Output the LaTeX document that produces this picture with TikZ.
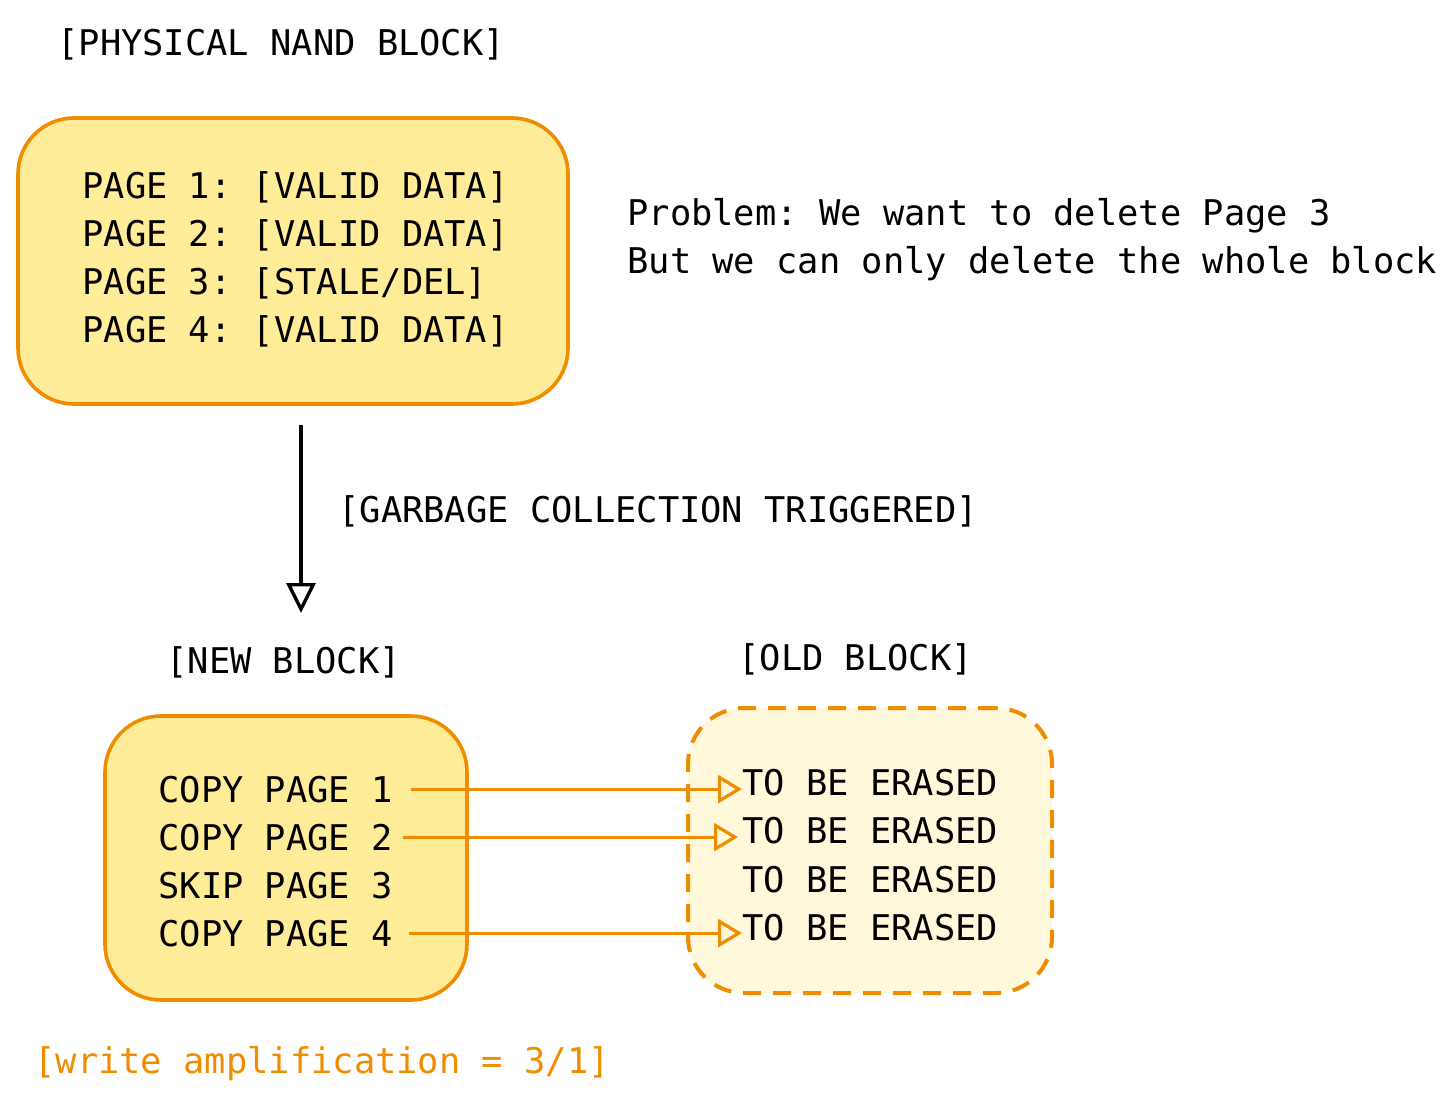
\documentclass[tikz,border=0pt]{standalone}
\usepackage{fontspec}
\setmonofont{DejaVu Sans Mono}
\usetikzlibrary{arrows.meta}
\definecolor{fillY}{HTML}{FFEC99}
\definecolor{fillL}{HTML}{FFF8DB}
\definecolor{strokeO}{HTML}{F08C00}
\begin{document}
\begin{tikzpicture}[x=0.5pt,y=-0.5pt,
  txt/.style={font=\ttfamily\fontsize{17.7pt}{24pt}\selectfont, inner sep=0pt, anchor=base west},
  blk/.style={draw=strokeO, line width=1.8pt, fill=fillY, rounded corners=28pt, inner sep=0pt},
  oldblk/.style={blk, fill=fillL, line width=2pt, dash pattern=on 9pt off 6pt},
  flow/.style={-{Triangle[open,length=12pt,width=14pt]}, draw=strokeO, line width=1.6pt},
  gcflow/.style={-{Triangle[open,length=15pt,width=14.5pt]}, line width=1.7pt}]
\useasboundingbox (0,0) rectangle (1456,1108);
% boxes
\node[blk, minimum width=275pt, minimum height=143pt] (nand) at (293,261) {};
\node[blk, minimum width=181pt, minimum height=142pt] (new) at (286,858) {};
\node[oldblk, minimum width=182pt, minimum height=142.5pt] (old) at (870,850.5) {};
% titles
\node[txt] (tnand) at (57,55) {[PHYSICAL NAND BLOCK]};
\node[txt] (tgc) at (338,522) {[GARBAGE COLLECTION TRIGGERED]};
\node[txt] (tnew) at (166,673) {[NEW BLOCK]};
\node[txt] (told) at (738,670) {[OLD BLOCK]};
\node[txt, text=strokeO] (twa) at (34,1073) {[write amplification = 3/1]};
% problem text
\node[txt] (prob1) at (627,225) {Problem: We want to delete Page 3};
\node[txt] (prob2) at (627,273) {But we can only delete the whole block};
% NAND pages
\node[txt] (p1) at (82,198) {PAGE 1: [VALID DATA]};
\node[txt] (p2) at (82,246) {PAGE 2: [VALID DATA]};
\node[txt] (p3) at (82,294) {PAGE 3: [STALE/DEL]};
\node[txt] (p4) at (82,342) {PAGE 4: [VALID DATA]};
% new block
\node[txt] (c1) at (158,802) {COPY PAGE 1};
\node[txt] (c2) at (158,850) {COPY PAGE 2};
\node[txt] (c3) at (158,898) {SKIP PAGE 3};
\node[txt] (c4) at (158,946) {COPY PAGE 4};
% old block
\node[txt] (e1) at (742,795) {TO BE ERASED};
\node[txt] (e2) at (742,843) {TO BE ERASED};
\node[txt] (e3) at (742,892) {TO BE ERASED};
\node[txt] (e4) at (742,940) {TO BE ERASED};
% arrows
\coordinate (gcend) at (301,613);
\draw[gcflow, shorten <=9.5pt] (nand.south -| gcend) -- (gcend);
\draw[flow, shorten <=9pt] (c1.east) -- (c1.east -| e1.west);
\draw[flow, shorten <=5pt, shorten >=2pt] (c2.east) -- (c2.east -| e2.west);
\draw[flow, shorten <=8pt] (c4.east) -- (c4.east -| e4.west);
\end{tikzpicture}
\end{document}
